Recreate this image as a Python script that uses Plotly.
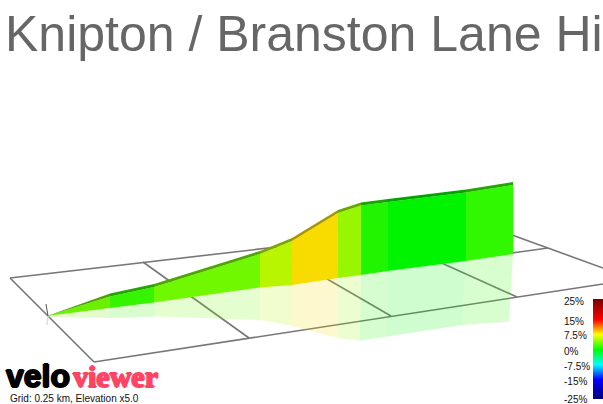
import plotly.graph_objects as go

TITLE = "Knipton / Branston Lane Hi"
CAPTION = "Grid: 0.25 km, Elevation x5.0"

# profile, one entry per segment boundary
profile_x = [47, 110, 154, 260, 292, 338, 361, 388, 466, 513]
top_y     = [316, 296.5, 287, 254, 241, 213, 205.5, 202, 192.5, 185]
base_y    = [316, 308, 302.5, 287.5, 285, 278, 275, 271, 261, 254]
mirror_x  = [47, 111, 155, 260, 292, 337, 360, 387, 462, 509]
mirror_y  = [317, 318, 316.5, 320, 326, 338, 340.5, 336.5, 325, 321.5]
seg_colors = ["#6cf000", "#34f400", "#70f800", "#b8f600", "#f8dc00",
              "#98f600", "#20f400", "#00f400", "#30f800"]

# ground grid
grid_lines = [
    ([10, 277], [278, 247]),
    ([94, 603], [362, 284]),
    ([10, 94], [278, 362]),
    ([143, 249], [262, 338]),
    ([277, 391], [250, 316]),
    ([375, 517], [233, 297]),
    ([512, 603], [235, 268]),
    ([512, 548], [253, 248]),
]

# colour key
key_labels = ["25%", "15%", "7.5%", "0%", "-7.5%", "-15%", "-25%"]
key_label_y = [301, 321, 335, 351, 366, 381, 399]
key_z = [-25, -15, -7.5, 0, 7.5, 15, 25]
key_scale = [[0, "#00006e"], [0.2, "#0000ff"], [0.35, "#00ffff"], [0.5, "#00ff00"],
             [0.65, "#ffff00"], [0.8, "#ff0000"], [1, "#7a0000"]]


def rgba(hex_color, alpha):
    r, g, b = (int(hex_color[i:i + 2], 16) for i in (1, 3, 5))
    return f"rgba({r},{g},{b},{alpha})"


def darker(hex_color, k=0.68):
    r, g, b = (int(int(hex_color[i:i + 2], 16) * k) for i in (1, 3, 5))
    return f"rgb({r},{g},{b})"


def poly(xs, ys, fill):
    return go.Scatter(x=xs, y=ys, mode="lines", fill="toself", fillcolor=fill,
                      line=dict(width=0), hoverinfo="skip", showlegend=False)


def thick(color):
    return f"1px 0 0 {color}, -1px 0 0 {color}, 0 1px 0 {color}, 0 -1px 0 {color}"


fig = go.Figure()

for xs, ys in grid_lines:
    fig.add_trace(go.Scatter(x=xs, y=ys, mode="lines", showlegend=False, hoverinfo="skip",
                             line=dict(color="#777777", width=1.6)))

# start tick and its reflection
fig.add_trace(go.Scatter(x=[46, 48], y=[304, 316], mode="lines", showlegend=False,
                         hoverinfo="skip", line=dict(color="#555555", width=1)))
fig.add_trace(go.Scatter(x=[48, 47], y=[316, 325], mode="lines", showlegend=False,
                         hoverinfo="skip", line=dict(color="#dddddd", width=1.5)))

for i, c in enumerate(seg_colors):
    # reflection on the ground
    fig.add_trace(poly([profile_x[i], profile_x[i + 1], mirror_x[i + 1], mirror_x[i]],
                       [base_y[i], base_y[i + 1], mirror_y[i + 1], mirror_y[i]],
                       rgba(c, 0.19)))
    # wall
    fig.add_trace(poly([profile_x[i], profile_x[i + 1], profile_x[i + 1], profile_x[i]],
                       [top_y[i], top_y[i + 1], base_y[i + 1], base_y[i]], c))
    # darker ribbon along the top
    lift0 = 0 if i == 0 else 3
    fig.add_trace(poly([profile_x[i], profile_x[i + 1], profile_x[i + 1], profile_x[i]],
                       [top_y[i] - lift0, top_y[i + 1] - 3, top_y[i + 1], top_y[i]],
                       darker(c)))

fig.add_trace(go.Heatmap(x=[0], y=key_z, z=[[v] for v in key_z], zmin=-25, zmax=25,
                         colorscale=key_scale, showscale=False, hoverinfo="skip",
                         zsmooth="best", xaxis="x2", yaxis="y2"))

annotations = [
    dict(x=4, y=34, text=TITLE, font=dict(family="Liberation Sans", size=50, color="#666666")),
    dict(x=9, y=398, text=CAPTION, font=dict(family="Liberation Sans", size=10, color="#111111")),
    dict(x=5, y=376, text="velo", font=dict(family="Liberation Sans", size=32, weight=700,
                                            color="#000000", shadow=thick("#000000"))),
    dict(x=72, y=376, text="viewer", font=dict(family="Liberation Sans Narrow", size=30, weight=700,
                                               color="#ff4466", shadow=thick("#ff4466"))),
]
for label, y in zip(key_labels, key_label_y):
    annotations.append(dict(x=563, y=y, text=label,
                            font=dict(family="Liberation Sans", size=10, color="#111111")))
for a in annotations:
    a.update(xref="x", yref="y", xanchor="left", yanchor="middle", showarrow=False,
             borderpad=0, align="left")

hidden = dict(visible=False, fixedrange=True)
fig.update_layout(
    width=603, height=404,
    margin=dict(t=0, b=0, l=0, r=0),
    paper_bgcolor="white",
    plot_bgcolor="white",
    showlegend=False,
    xaxis=dict(range=[0, 603], domain=[0, 1], **hidden),
    yaxis=dict(range=[404, 0], domain=[0, 1], **hidden),
    xaxis2=dict(domain=[593 / 603, 1], anchor="y2", **hidden),
    yaxis2=dict(domain=[5 / 404, 105 / 404], anchor="x2", range=[-25, 25], **hidden),
    annotations=annotations,
)

fig.write_html("out.html", config={"displayModeBar": False},
               post_script="document.body.style.margin='0';document.body.style.overflow='hidden';")
